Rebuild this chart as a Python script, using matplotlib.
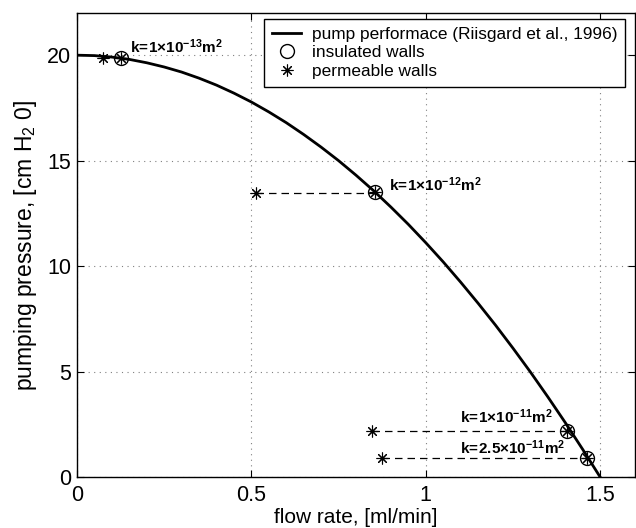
import matplotlib
matplotlib.use("Agg")
import matplotlib.pyplot as plt

plt.rcParams['font.family'] = ['Liberation Sans', 'DejaVu Sans']
plt.rcParams['mathtext.fontset'] = 'custom'
plt.rcParams['mathtext.rm'] = 'Liberation Sans'
plt.rcParams['mathtext.bf'] = 'Liberation Sans:bold'

# pump performance curve
curve_q = [0.0, 0.05, 0.1, 0.15, 0.2, 0.25, 0.3, 0.35, 0.4, 0.45, 0.5, 0.55, 0.6,
           0.65, 0.7, 0.75, 0.8, 0.85, 0.9, 0.95, 1.0, 1.05, 1.1, 1.15, 1.2,
           1.25, 1.3, 1.35, 1.4, 1.45, 1.5]
curve_p = [20.0, 19.98, 19.91, 19.8, 19.64, 19.44, 19.2, 18.91, 18.58, 18.2, 17.78,
           17.31, 16.8, 16.24, 15.64, 15.0, 14.31, 13.58, 12.8, 11.98, 11.11,
           10.2, 9.24, 8.24, 7.2, 6.11, 4.98, 3.8, 2.58, 1.31, 0.0]

insulated_q = [0.126, 0.855, 1.406, 1.462]
insulated_p = [19.88, 13.5, 2.2, 0.9]
permeable_q = [0.075, 0.514, 0.845, 0.875]
permeable_p = [19.88, 13.45, 2.2, 0.9]
k_labels = [r'$\mathbf{k\!=\!1{\times}10^{-13}m^2}$',
            r'$\mathbf{k\!=\!1{\times}10^{-12}m^2}$',
            r'$\mathbf{k\!=\!1{\times}10^{-11}m^2}$',
            r'$\mathbf{k\!=\!2.5{\times}10^{-11}m^2}$']
label_q = [0.152, 0.895, 1.097, 1.097]
label_p = [20.4, 13.85, 2.85, 1.37]

xticks = [0, 0.5, 1, 1.5]
xticklabels = ['0', '0.5', '1', '1.5']
yticks = [0, 5, 10, 15, 20]
yticklabels = ['0', '5', '10', '15', '20']

fig = plt.figure(figsize=(6.36, 5.28), dpi=100)
ax = fig.add_axes([77/636, 51/528, 558/636, 464/528])

star = (8, 2, 0)
ax.plot(curve_q, curve_p, color='black', lw=2, label='pump performace (Riisgard et al., 1996)')
for i in range(1, len(insulated_q)):
    ax.plot([permeable_q[i], insulated_q[i]], [permeable_p[i], permeable_p[i]],
            color='black', lw=0.9, ls=(0, (6, 4)))
ax.plot(insulated_q, insulated_p, ls='none', marker='o', ms=10, mfc='none', mec='black',
        mew=1.0, label='insulated walls')
ax.plot(insulated_q, insulated_p, ls='none', marker=star, ms=8.5, mec='black', mew=0.8)
ax.plot(permeable_q, permeable_p, ls='none', marker=star, ms=8.5, mec='black', mew=0.8,
        label='permeable walls')

for s, q, p in zip(k_labels, label_q, label_p):
    ax.text(q, p, s, fontsize=11, va='center', ha='left')

ax.set_xlim(0, 1.6)
ax.set_ylim(0, 22)
ax.set_xticks(xticks)
ax.set_xticklabels(xticklabels)
ax.set_yticks(yticks)
ax.set_yticklabels(yticklabels)
ax.tick_params(direction='in', length=5, width=0.8, labelsize=15.5, top=True, right=True)
ax.tick_params(axis='x', pad=6)
ax.tick_params(axis='y', pad=4)
ax.grid(True, ls=(0, (1, 4)), color='gray', lw=0.8)
for sp in ax.spines.values():
    sp.set_linewidth(1.0)

ax.set_xlabel('flow rate, [ml/min]', fontsize=15, labelpad=1)
ax.set_ylabel(r'pumping pressure, [cm H$_2$ 0]', fontsize=16.5, labelpad=6)

leg = ax.legend(loc='upper right', bbox_to_anchor=(625/636, 1 - 19/528),
                bbox_transform=fig.transFigure, fontsize=12.4, frameon=True,
                fancybox=False, edgecolor='black', framealpha=1, borderpad=0.45,
                labelspacing=0.2, handlelength=1.7, handletextpad=0.6, borderaxespad=0)
leg.get_frame().set_linewidth(1.0)

fig.savefig('out.png', dpi=100)
